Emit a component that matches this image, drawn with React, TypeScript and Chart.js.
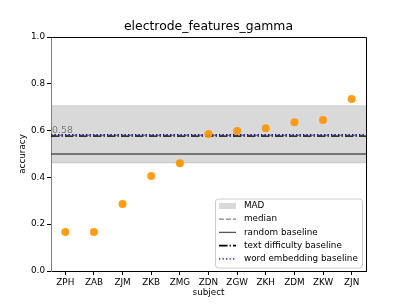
import React, { useEffect, useRef } from "react";
import { Chart, registerables } from "chart.js";

Chart.register(...registerables);

const categories = ["ZPH", "ZAB", "ZJM", "ZKB", "ZMG", "ZDN", "ZGW", "ZKH", "ZDM", "ZKW", "ZJN"];
const accuracy = [0.167, 0.167, 0.286, 0.406, 0.46, 0.585, 0.598, 0.61, 0.636, 0.645, 0.735];
const madUpper = 0.706;
const madLower = 0.462;
const median = 0.58;
const randomBaseline = 0.5;
const textDifficultyBaseline = 0.576;
const wordEmbeddingBaseline = 0.583;
const yTicks = [0, 0.2, 0.4, 0.6, 0.8, 1.0];
const title = "electrode_features_gamma";
const xLabel = "subject";
const yLabel = "accuracy";

const FONT = "'DejaVu Sans', sans-serif";
const XMIN = -0.5;
const XMAX = categories.length - 0.5;

function hline(v: number) {
  return [
    { x: XMIN, y: v },
    { x: XMAX, y: v },
  ];
}

export default function App() {
  const ref = useRef<HTMLCanvasElement | null>(null);

  useEffect(() => {
    if (!ref.current) return;

    const legendItems = [
      { label: "MAD", kind: "box" },
      { label: "median", kind: "line", color: "#808080", dash: [4.9, 2.1], width: 1.3 },
      { label: "random baseline", kind: "line", color: "#555555", dash: [], width: 1.3 },
      { label: "text difficulty baseline", kind: "line", color: "#000000", dash: [8.5, 2.1, 1.3, 2.1], width: 1.6 },
      { label: "word embedding baseline", kind: "line", color: "#0000cc", dash: [1.3, 2.2], width: 1.3 },
    ];

    const decor = {
      id: "decor",
      afterDraw(chart: any) {
        const ctx = chart.ctx;
        const a = chart.chartArea;
        const ys = chart.scales.y;
        ctx.save();
        // spines top/right
        ctx.strokeStyle = "#000";
        ctx.lineWidth = 1;
        ctx.beginPath();
        ctx.moveTo(a.left, a.top + 0.5);
        ctx.lineTo(a.right + 0.5, a.top + 0.5);
        ctx.lineTo(a.right + 0.5, a.bottom);
        ctx.stroke();
        // title
        ctx.fillStyle = "#000";
        ctx.font = `12.4px ${FONT}`;
        ctx.textAlign = "center";
        ctx.textBaseline = "alphabetic";
        ctx.fillText(title, (a.left + a.right) / 2, a.top - 7);
        // axis titles
        ctx.font = `8.8px ${FONT}`;
        ctx.textBaseline = "middle";
        ctx.fillText(xLabel, (a.left + a.right) / 2, 293);
        ctx.save();
        ctx.translate(23, (a.top + a.bottom) / 2);
        ctx.rotate(-Math.PI / 2);
        ctx.fillText(yLabel, 0, 0);
        ctx.restore();
        // median annotation
        ctx.font = `9.4px ${FONT}`;
        ctx.fillStyle = "#7a7a7a";
        ctx.textAlign = "left";
        ctx.textBaseline = "alphabetic";
        ctx.fillText(median.toFixed(2), a.left + 1, ys.getPixelForValue(median) - 2);

        // legend
        const w = 147;
        const h = 69;
        const x0 = a.right - 4 - w;
        const y0 = a.bottom - 3.5 - h;
        ctx.beginPath();
        if (ctx.roundRect) ctx.roundRect(x0 + 0.5, y0 + 0.5, w, h, 3);
        else ctx.rect(x0 + 0.5, y0 + 0.5, w, h);
        ctx.fillStyle = "rgba(255,255,255,0.85)";
        ctx.fill();
        ctx.strokeStyle = "#cccccc";
        ctx.lineWidth = 1;
        ctx.stroke();
        ctx.font = `8.8px ${FONT}`;
        ctx.textBaseline = "middle";
        legendItems.forEach((it: any, i: number) => {
          const cy = y0 + 7.5 + i * 13.2;
          const hx = x0 + 4;
          const hw = 17;
          if (it.kind === "box") {
            ctx.fillStyle = "rgba(128,128,128,0.3)";
            ctx.fillRect(hx, cy - 3, hw, 6);
          } else {
            ctx.beginPath();
            ctx.setLineDash(it.dash);
            ctx.strokeStyle = it.color;
            ctx.lineWidth = it.width;
            ctx.moveTo(hx, cy);
            ctx.lineTo(hx + hw, cy);
            ctx.stroke();
            ctx.setLineDash([]);
          }
          ctx.fillStyle = "#000";
          ctx.fillText(it.label, x0 + 29, cy);
        });
        ctx.restore();
      },
    };

    const chart = new Chart(ref.current, {
      type: "line",
      data: {
        datasets: [
          {
            label: "MAD",
            data: hline(madUpper),
            fill: { value: madLower },
            backgroundColor: "rgba(128,128,128,0.3)",
            borderColor: "rgba(128,128,128,0.25)",
            borderWidth: 1,
            pointRadius: 0,
            order: 10,
          },
          {
            label: "MAD lower",
            data: hline(madLower),
            fill: false,
            borderColor: "rgba(128,128,128,0.25)",
            borderWidth: 1,
            pointRadius: 0,
            order: 9,
          },
          {
            label: "random baseline",
            data: hline(randomBaseline),
            borderColor: "#555555",
            borderWidth: 1.6,
            pointRadius: 0,
            fill: false,
            order: 8,
          },
          {
            label: "median",
            data: hline(median),
            borderColor: "#808080",
            borderWidth: 1.3,
            borderDash: [4.9, 2.1],
            pointRadius: 0,
            fill: false,
            order: 7,
          },
          {
            label: "text difficulty baseline",
            data: hline(textDifficultyBaseline),
            borderColor: "#000000",
            borderWidth: 1.3,
            borderDash: [8.5, 2.1, 1.3, 2.1],
            pointRadius: 0,
            fill: false,
            order: 6,
          },
          {
            label: "word embedding baseline",
            data: hline(wordEmbeddingBaseline),
            borderColor: "#0000cc",
            borderWidth: 1.3,
            borderDash: [1.3, 2.2],
            pointRadius: 0,
            fill: false,
            order: 5,
          },
          {
            label: "accuracy",
            data: categories.map((_, i) => ({ x: i, y: accuracy[i] })),
            showLine: false,
            pointRadius: 4,
            pointBackgroundColor: "rgba(255,150,0,0.92)",
            pointBorderWidth: 0,
            borderColor: "rgba(0,0,0,0)",
            order: 0,
          },
        ],
      },
      options: {
        animation: false,
        responsive: false,
        maintainAspectRatio: false,
        events: [],
        layout: { padding: { top: 37, right: 41, left: 0, bottom: 0 } },
        plugins: {
          legend: { display: false },
          title: { display: false },
          tooltip: { enabled: false },
        },
        scales: {
          x: {
            type: "linear",
            min: XMIN,
            max: XMAX,
            afterBuildTicks: (s: any) => {
              s.ticks = categories.map((_, i) => ({ value: i }));
            },
            afterFit: (s: any) => {
              s.height = 34;
            },
            ticks: {
              callback: (v: any) => categories[Math.round(v)] ?? "",
              font: { family: FONT, size: 8.8 },
              color: "#000",
              padding: 2,
              maxRotation: 0,
              autoSkip: false,
            },
            grid: { drawOnChartArea: false, drawTicks: true, tickLength: 4, tickColor: "#000" },
            border: { display: true, color: "#000", width: 1 },
          },
          y: {
            type: "linear",
            min: 0,
            max: 1,
            afterBuildTicks: (s: any) => {
              s.ticks = yTicks.map((v) => ({ value: v }));
            },
            afterFit: (s: any) => {
              s.width = 51;
            },
            ticks: {
              callback: (v: any) => Number(v).toFixed(1),
              font: { family: FONT, size: 8.8 },
              color: "#000",
              padding: 2,
            },
            grid: { drawOnChartArea: false, drawTicks: true, tickLength: 4, tickColor: "#000" },
            border: { display: true, color: "#808080", width: 1 },
          },
        },
      },
      plugins: [decor],
    } as any);

    return () => chart.destroy();
  }, []);

  return (
    <div style={{ position: "fixed", left: 0, top: 0, width: 407, height: 305, background: "#fff" }}>
      <canvas ref={ref} width={407} height={305} style={{ width: 407, height: 305, display: "block" }} />
    </div>
  );
}
